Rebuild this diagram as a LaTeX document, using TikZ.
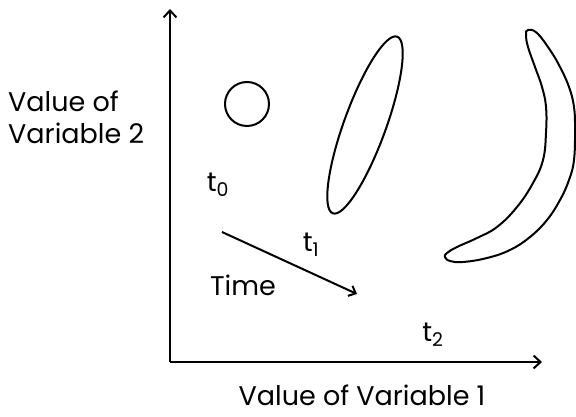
\documentclass[tikz,border=0pt]{standalone}
\usepackage{fontspec}
\setmainfont{Poppins}
\usetikzlibrary{arrows.meta}

\begin{document}
\begin{tikzpicture}[x=1pt, y=1pt,
    axis/.style={line width=2pt, -{Straight Barb[length=7pt, width=13pt, line width=2pt]}},
    outline/.style={line width=2pt},
    lbl/.style={font=\fontsize{27}{31}\selectfont, inner sep=0pt}]
    \useasboundingbox (0,0) rectangle (576,417);

    % Axes
    \coordinate (origin) at (170,55);
    \coordinate (ytip) at (170,408);
    \coordinate (xtip) at (542,55);
    \draw[axis] (origin) -- (ytip);
    \draw[axis] (origin) -- (xtip);

    % Axis labels
    \node[lbl, anchor=west, align=left] (ylab) at (8,300) {Value of\\[1pt]Variable 2};
    \node[lbl] (xlab) at (362,22) {Value of Variable 1};

    % The three states
    \draw[outline] (247,313) circle (22);
    \draw[outline, rotate around={70:(365,292)}] (365,292) ellipse (94 and 21);
    \draw[outline] plot[smooth cycle, tension=0.7] coordinates {
        (528,387) (537,384) (550,367) (560,350) (569,330) (574,310)
        (575,287) (574,257) (569,237) (560,217) (547,197) (530,180)
        (510,167) (487,159) (463,155) (450,156) (445,160)
        (447,164) (457,170) (477,179) (497,190) (517,210) (533,234)
        (543,257) (546,284) (546,310) (542,330) (535,350) (528,370)
        (526,382)};

    % Time steps
    \node[lbl] (t0) at (218,232) {t\textsubscript{0}};
    \node[lbl] (t1) at (311,172) {t\textsubscript{1}};
    \node[lbl] (t2) at (433,82) {t\textsubscript{2}};

    % Time arrow
    \node[lbl] (time) at (243,132) {Time};
    \coordinate (tstart) at (222,185);
    \coordinate (tend) at (357,123);
    \draw[line width=2pt, -{Straight Barb[length=6pt, width=11pt, line width=2pt]}] (tstart) -- (tend);
\end{tikzpicture}
\end{document}
